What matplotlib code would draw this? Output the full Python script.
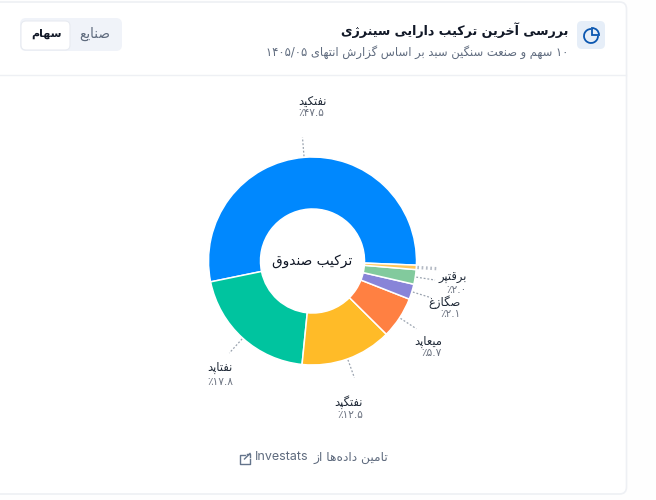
import matplotlib
matplotlib.use('Agg')
import matplotlib.pyplot as plt
import matplotlib.patches as mpatches
import numpy as np

plt.rcParams['font.family'] = ['DejaVu Sans']

names = ['نفتکید', 'نفتاپد', 'نفتگپد', 'میعاپد', 'صگازغ', 'برقتپر', '']
values = [47.5, 17.8, 12.5, 5.7, 2.1, 2.0, 0.6]
shares = ['۴۷.۵٪', '۱۷.۸٪', '۱۲.۵٪', '۵.۷٪', '۲.۱٪', '۲.۰٪', '']
colors = ['#0088fe', '#00c49f', '#ffbb28', '#ff8042', '#8884d8', '#82ca9d', '#ffc658']

title = 'بررسی آخرین ترکیب دارایی سینرژی'
subtitle = '۱۰ سهم و صنعت سنگین سبد بر اساس گزارش انتهای ۱۴۰۵/۰۵'
center_text = 'ترکیب صندوق'
source_text = 'تامین داده‌ها از'
tabs = ['صنایع', 'سهام']

# isolated, final, initial, medial presentation forms
forms = {
    'ا': 'ﺍﺎ', 'آ': 'ﺁﺂ', 'د': 'ﺩﺪ', 'ذ': 'ﺫﺬ', 'ر': 'ﺭﺮ', 'ز': 'ﺯﺰ', 'ژ': 'ﮊﮋ', 'و': 'ﻭﻮ',
    'ب': 'ﺏﺐﺑﺒ', 'پ': 'ﭖﭗﭘﭙ', 'ت': 'ﺕﺖﺗﺘ', 'ث': 'ﺙﺚﺛﺜ', 'ج': 'ﺝﺞﺟﺠ', 'چ': 'ﭺﭻﭼﭽ',
    'ح': 'ﺡﺢﺣﺤ', 'خ': 'ﺥﺦﺧﺨ', 'س': 'ﺱﺲﺳﺴ', 'ش': 'ﺵﺶﺷﺸ', 'ص': 'ﺹﺺﺻﺼ', 'ض': 'ﺽﺾﺿﻀ',
    'ط': 'ﻁﻂﻃﻄ', 'ظ': 'ﻅﻆﻇﻈ', 'ع': 'ﻉﻊﻋﻌ', 'غ': 'ﻍﻎﻏﻐ', 'ف': 'ﻑﻒﻓﻔ', 'ق': 'ﻕﻖﻗﻘ',
    'ک': 'ﮎﮏﮐﮑ', 'گ': 'ﮒﮓﮔﮕ', 'ل': 'ﻝﻞﻟﻠ', 'م': 'ﻡﻢﻣﻤ', 'ن': 'ﻥﻦﻧﻨ', 'ه': 'ﻩﻪﻫﻬ',
    'ی': 'ﯼﯽﯾﯿ',
}


def shape(text):
    # matplotlib has no bidi or joining, so build the visual form by hand
    out = []
    chars = list(text)
    for i, c in enumerate(chars):
        if c == '\u200c':
            continue
        if c not in forms:
            out.append(c)
            continue
        prev = chars[i - 1] if i > 0 else ''
        nxt = chars[i + 1] if i + 1 < len(chars) else ''
        join_prev = prev in forms and len(forms[prev]) == 4
        join_next = len(forms[c]) == 4 and nxt in forms
        if join_prev and join_next:
            out.append(forms[c][3])
        elif join_next:
            out.append(forms[c][2])
        elif join_prev:
            out.append(forms[c][1])
        else:
            out.append(forms[c][0])
    runs = ''.join(out)[::-1]
    # digit runs keep their left to right order
    res, buf = '', ''
    for c in runs:
        if c in '۰۱۲۳۴۵۶۷۸۹/.':
            buf += c
        else:
            res += buf[::-1] + c
            buf = ''
    return res + buf[::-1]


W, H = 656, 500
fig = plt.figure(figsize=(W / 100, H / 100), dpi=100, facecolor='#fefefe')
bg = fig.add_axes([0, 0, 1, 1])
bg.set_xlim(0, W)
bg.set_ylim(H, 0)
bg.axis('off')

# card and header
bg.add_patch(mpatches.FancyBboxPatch((-10, 2), 636.5, 492, boxstyle='round,pad=0,rounding_size=7',
                                     fc='white', ec='#eef0f4', lw=1.2))
bg.plot([0, 626], [75, 75], color='#eef0f4', lw=1)

bg.text(568, 30, shape(title), ha='right', va='center', fontsize=9.1, fontweight='bold', color='#111827')
bg.text(568, 52, shape(subtitle), ha='right', va='center', fontsize=8.3, color='#5f6b7e')

# icon
bg.add_patch(mpatches.FancyBboxPatch((577, 21), 28, 28, boxstyle='round,pad=0,rounding_size=5',
                                     fc='#e6eef8', ec='none'))
bg.add_patch(mpatches.Arc((591, 36), 14, 14, theta1=0, theta2=270, color='#0b57b0', lw=1.3))
bg.add_patch(mpatches.Wedge((592, 35), 7, -90, 0, fc='none', ec='#0b57b0', lw=1.3))

# toggle
bg.add_patch(mpatches.FancyBboxPatch((20, 18), 102, 33, boxstyle='round,pad=0,rounding_size=6',
                                     fc='#f0f3f9', ec='none'))
bg.add_patch(mpatches.FancyBboxPatch((21, 21), 49, 29, boxstyle='round,pad=0,rounding_size=5',
                                     fc='white', ec='#e8ebf1', lw=0.8))
bg.text(95, 34, shape(tabs[0]), ha='center', va='center', fontsize=9.8, color='#5f6b7e')
bg.text(46, 34, shape(tabs[1]), ha='center', va='center', fontsize=8, fontweight='bold', color='#111827')

# donut
cx, cy, r = 312.5, 261, 104
ax = fig.add_axes([(cx - r) / W, 1 - (cy + r) / H, 2 * r / W, 2 * r / H])
wedges, _ = ax.pie(values, colors=colors, startangle=-2.3, counterclock=True, radius=1,
                   wedgeprops=dict(width=0.5, edgecolor='white', linewidth=1.1))
ax.set_xlim(-1, 1)
ax.set_ylim(-1, 1)
ax.axis('off')
ax.patch.set_alpha(0)

# anchor x, alignment, name y, share y
label_pos = [(298, 'left', 101, 113), (207, 'left', 368, 382), (363, 'right', 402, 415),
             (442, 'right', 341, 353), (461, 'right', 302, 314), (467, 'right', 278, 290)]
for w, name, share, (lx, ha, ny, sy) in zip(wedges, names, shares, label_pos):
    mid = np.deg2rad((w.theta1 + w.theta2) / 2)
    x0, y0 = cx + (r + 1) * np.cos(mid), cy - (r + 1) * np.sin(mid)
    x1, y1 = cx + (r + 20) * np.cos(mid), cy - (r + 20) * np.sin(mid)
    bg.plot([x0, x1], [y0, y1], color='#9aa3af', lw=0.9, ls=(0, (1.5, 1.5)), zorder=1)
    bg.text(lx, ny, shape(name), ha=ha, va='center', fontsize=8.3, color='#1f2937')
    bg.text(lx, sy, shape(share), ha=ha, va='center', fontsize=7.6, color='#6b7280')

# tiny slice leader
w = wedges[-1]
mid = np.deg2rad((w.theta1 + w.theta2) / 2)
bg.plot([cx + (r + 1) * np.cos(mid), cx + (r + 20) * np.cos(mid)],
        [cy - (r + 1) * np.sin(mid), cy - (r + 20) * np.sin(mid)],
        color='#b4bac4', lw=2.4, ls=(0, (0.5, 0.8)), zorder=1)

bg.text(cx, cy, shape(center_text), ha='center', va='center', fontsize=9.8, color='#111827')

# footer
bg.text(309, 457, 'Investats', ha='right', va='center', fontsize=9, color='#5f6b7e', family='Inter')
bg.text(388, 457, shape(source_text), ha='right', va='center', fontsize=8.8, color='#5f6b7e')
bg.plot([245, 239.5, 239.5, 249.5, 249.5], [454.5, 454.5, 464, 464, 459], color='#64748b', lw=1)
bg.plot([244.5, 250], [459, 453.5], color='#64748b', lw=1)
bg.plot([246.5, 250, 250], [453.5, 453.5, 457], color='#64748b', lw=1)

fig.savefig('out.png', dpi=100)
